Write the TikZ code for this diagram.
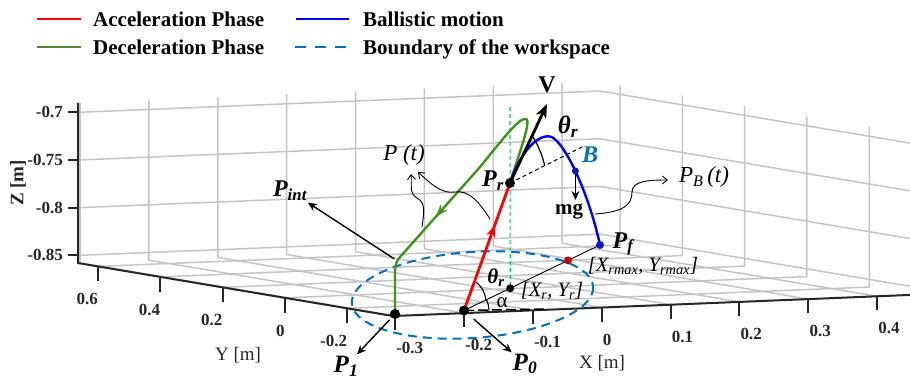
\documentclass[tikz,border=0pt]{standalone}
\usepackage{fontspec}
\setmainfont{Liberation Serif}
\usetikzlibrary{arrows.meta,decorations.markings,calc}
\definecolor{accred}{RGB}{255,0,0}
\definecolor{decgreen}{RGB}{60,150,25}
\definecolor{leggreen}{RGB}{84,135,50}
\definecolor{balblue}{RGB}{0,0,255}
\definecolor{wsblue}{RGB}{0,114,189}
\definecolor{gridgray}{RGB}{196,196,196}
\definecolor{vgreen}{RGB}{0,205,90}
\definecolor{dotred}{RGB}{200,0,10}
\definecolor{dotblue}{RGB}{20,20,200}
\definecolor{axisblack}{RGB}{38,38,38}
\newcommand{\pxfont}[1]{\fontsize{#1}{#1}\selectfont}
\begin{document}
\begin{tikzpicture}[x=1pt,y=-1pt,
  gridline/.style={draw=gridgray, line width=1.5pt},
  axisline/.style={draw=axisblack, line width=2pt},
  tickmark/.style={draw=axisblack, line width=2pt},
  ticklab/.style={font=\pxfont{17}\bfseries, inner sep=0pt, text=axisblack},
  axlab/.style={font=\pxfont{19}, inner sep=0pt, text=axisblack},
  legtext/.style={font=\pxfont{21}\bfseries, inner sep=0pt, anchor=base west},
  legline/.style={line width=2.5pt},
  biglab/.style={font=\pxfont{24}\bfseries\itshape, inner sep=0pt},
  itlab/.style={font=\pxfont{20.5}\itshape, inner sep=0pt},
  blackdot/.style={circle, fill=black, inner sep=0pt, minimum size=#1},
  colordot/.style={circle, inner sep=0pt, minimum size=#1},
  pointer/.style={draw=black, line width=1.4pt, -{Stealth[length=9pt,width=8pt]}},
  wavy/.style={draw=black, line width=0.9pt, -{Straight Barb[length=5pt,width=8pt]}},
  midarrow/.style={postaction={decorate}, decoration={markings, mark=at position #1 with {\arrow{Stealth[length=12pt,width=9pt]}}}},
]
\useasboundingbox (0,0) rectangle (910,378);

% ---------- 3D box, grid and axes ----------
\begin{scope}[shift={(493.6,-529.2)}, x={(688.7pt,28.1pt)}, y={(-311.6pt,52.4pt)}, z={(0pt,954pt)}]
  \foreach \zz in {-0.85,-0.8,-0.75,-0.7}
    \draw[gridline] (-0.303,0.664,\zz) -- (0.455,0.664,\zz) -- (0.455,-0.347,\zz);
  \foreach \xx in {-0.3,-0.2,-0.1,0,0.1,0.2,0.3,0.4}
    \draw[gridline] (\xx,-0.347,-0.858) -- (\xx,0.664,-0.858) -- (\xx,0.664,-0.69);
  \foreach \yy in {-0.2,0,0.2,0.4,0.6}
    \draw[gridline] (-0.303,\yy,-0.858) -- (0.455,\yy,-0.858) -- (0.455,\yy,-0.69);
  \draw[axisline] (-0.303,0.664,-0.69) -- (-0.303,0.664,-0.858) -- (-0.303,-0.347,-0.858) -- (0.46,-0.347,-0.858);
  \foreach \zz [count=\i] in {-0.85,-0.8,-0.75,-0.7} {
    \draw[tickmark] (-0.303,0.664,\zz) -- ++(-10pt,0pt);
    \path (-0.303,0.664,\zz) ++(-15pt,0pt) node[ticklab, anchor=east] (zt\i) {\zz};
  }
  \foreach \xx [count=\i] in {-0.3,-0.2,-0.1,0,0.1,0.2,0.3,0.4} {
    \draw[tickmark] (\xx,-0.347,-0.858) -- ++(0pt,-14pt);
    \path (\xx,-0.347,-0.858) ++(1pt,-26pt) node[ticklab, anchor=north west] (xt\i) {\xx};
  }
  \foreach \yy [count=\i] in {-0.2,0,0.2,0.4,0.6} {
    \draw[tickmark] (-0.303,\yy,-0.858) -- ++(0pt,-15pt);
    \path (-0.303,\yy,-0.858) ++(0pt,-27pt) node[ticklab, anchor=north east] (yt\i) {\yy};
  }
\end{scope}

\node[axlab, font=\pxfont{19}\bfseries, rotate=90] (zaxlab) at (18,183) {Z [m]};
\node[axlab] (yaxlab) at (238,355) {Y [m]};
\node[axlab] (xaxlab) at (602,363) {X [m]};

% ---------- legend ----------
\draw[legline, draw=accred] (37,19) -- (81,19);
\node[legtext] (lg1) at (93,26) {Acceleration Phase};
\draw[legline, draw=leggreen] (37,47) -- (81,47);
\node[legtext] (lg2) at (93,54) {Deceleration Phase};
\draw[legline, draw=balblue] (296,19) -- (349,19);
\node[legtext] (lg3) at (363,26) {Ballistic motion};
\draw[legline, draw=wsblue, dash pattern=on 11pt off 9pt] (295,47) -- (349,47);
\node[legtext] (lg4) at (363,54) {Boundary of the workspace};

% ---------- key points ----------
\coordinate (P0) at (464,310.5);
\coordinate (P1) at (395,314);
\coordinate (Pr) at (510,183);
\coordinate (Pf) at (600,245);
\coordinate (Bpt) at (575.4,171);
\coordinate (Vtip) at (547,104);
\coordinate (Bend) at (584,146);
\coordinate (Vtop) at (510,107);
\coordinate (Pint) at (396,260);
\coordinate (XR) at ($(P0)!0.34!(Pf)$);
\coordinate (XRmax) at ($(P0)!0.765!(Pf)$);
\coordinate (Hend) at (545,309);
\coordinate (mgtip) at (575.4,200);

% workspace boundary
\draw[wsblue, line width=2pt, dash pattern=on 9pt off 6pt, rotate around={4:(472.5,295)}] (472.5,295) ellipse [x radius=121, y radius=43];

% projection lines
\draw[black, line width=0.9pt] (P0) -- (Pf);
\draw[black, line width=1.5pt, dash pattern=on 10pt off 4pt] (P0) -- (Hend);
\draw[vgreen, line width=1.1pt, dash pattern=on 4pt off 3pt] (Vtop) -- (XR);

% angle marks at P0
\draw[black, line width=1.1pt] ($(P0)!0.23!(Pr)$) to[bend left=25] ($(P0)!0.16!(Pf)$);
\draw[black, line width=1.1pt] (P0) ++(-26:25) arc[start angle=-26, end angle=0, radius=25];

% deceleration (green)
\draw[decgreen, line width=2.4pt, line join=round] (Pr) .. controls (520,150) and (534,115) .. (524,119)
  .. controls (516,122) and (506,135) .. (480,167) -- (400,257)
  .. controls (396,262) and (395,265) .. (395,272) -- (P1);
\path[decorate, decoration={markings, mark=at position 0.55 with {\arrow[decgreen]{Stealth[length=12pt,width=9pt]}}}] (480,167) -- (400,257);

% acceleration (red)
\draw[accred, line width=2.8pt, midarrow=0.67] (P0) -- (Pr);

% ballistic (blue)
\draw[balblue, line width=2.4pt] (Pr) .. controls (518,158) and (535,134) .. (550,136.5)
  .. controls (563,139) and (588,190) .. (Pf);

% velocity and angle at Pr
\draw[black, line width=1pt, dash pattern=on 4pt off 3pt] (Pr) -- (Bend);
\draw[black, line width=2.8pt, -{Stealth[length=14pt,width=11pt,inset=4pt]}] (Pr) -- (Vtip);
\draw[black, line width=1.2pt] ($(Pr)!0.6!(Vtip)$) to[bend left=8] ($(Pr)!0.47!(Bend)$);

% gravity
\draw[black, line width=1.4pt, -{Stealth[length=9pt,width=8pt]}] (Bpt) -- (mgtip);

% dots
\node[blackdot=10pt] (P0dot) at (P0) {};
\node[blackdot=10pt] (P1dot) at (P1) {};
\node[blackdot=10pt] (Prdot) at (Pr) {};
\node[blackdot=8pt] (XRdot) at (XR) {};
\node[colordot=8pt, fill=dotred] (XRmaxdot) at (XRmax) {};
\node[colordot=8pt, fill=dotblue] (Pfdot) at (Pf) {};
\node[colordot=7pt, fill=dotblue] (Bdot) at (Bpt) {};

% labels
\node[font=\pxfont{24}\bfseries, inner sep=0pt] (Vlab) at (547,85) {V};
\node[biglab, font=\pxfont{25}\bfseries\itshape] (thtop) at (568,127) {θ\textsubscript{r}};
\node[biglab, font=\pxfont{24}\bfseries\itshape, text=wsblue] (Blab) at (590,155) {B};
\node[font=\pxfont{21}\bfseries, inner sep=0pt, anchor=base] (mglab) at (569,214.5) {mg};
\node[biglab] (Prlab) at (493,181) {P\textsubscript{r}};
\node[biglab] (Pflab) at (623,244) {P\textsubscript{f}};
\node[biglab] (Pintlab) at (290,191) {P\textsubscript{int}};
\node[biglab, font=\pxfont{25}\bfseries\itshape] (P1lab) at (346,366) {P\textsubscript{1}};
\node[biglab, font=\pxfont{25}\bfseries\itshape] (P0lab) at (525,364) {P\textsubscript{0}};
\node[itlab, font=\pxfont{23}\itshape] (Ptlab) at (404,155) {P (t)};
\node[itlab, font=\pxfont{23}\itshape] (PBlab) at (704,177) {P\textsubscript{B}\,(t)};
\node[itlab] (XRlab) at (552,291) {[X\textsubscript{r}, Y\textsubscript{r}]};
\node[itlab] (XRmaxlab) at (643,266) {[X\textsubscript{rmax}, Y\textsubscript{rmax}]};
\node[biglab, font=\pxfont{21}\bfseries\itshape] (thlow) at (496,278) {θ\textsubscript{r}};
\node[font=\pxfont{21}, inner sep=0pt] (alab) at (502,303) {α};

% pointers
\draw[pointer, shorten <=2pt, shorten >=3pt] (Pint) -- (Pintlab);
\draw[pointer, shorten <=8pt, shorten >=2pt] (P1dot.center) -- (P1lab);
\draw[pointer, shorten <=13pt, shorten >=2pt] (P0dot.center) -- (P0lab);

% wavy pointers
\coordinate (pt1s) at (422,227);
\coordinate (pt1e) at (411,174);
\coordinate (pt2s) at (490,219);
\coordinate (pt2e) at (418,172);
\coordinate (pbs) at (595,214);
\coordinate (pbe) at (668,180);
\draw[wavy] (pt1s) .. controls (424,212) and (426,203) .. (417,198) .. controls (409,193) and (412,186) .. (pt1e);
\draw[wavy] (pt2s) .. controls (478,200) and (468,190) .. (455,192) .. controls (442,194) and (432,185) .. (pt2e);
\draw[wavy] (pbs) .. controls (622,212) and (632,206) .. (632,192) .. controls (632,181) and (648,180) .. (pbe);
\end{tikzpicture}
\end{document}
